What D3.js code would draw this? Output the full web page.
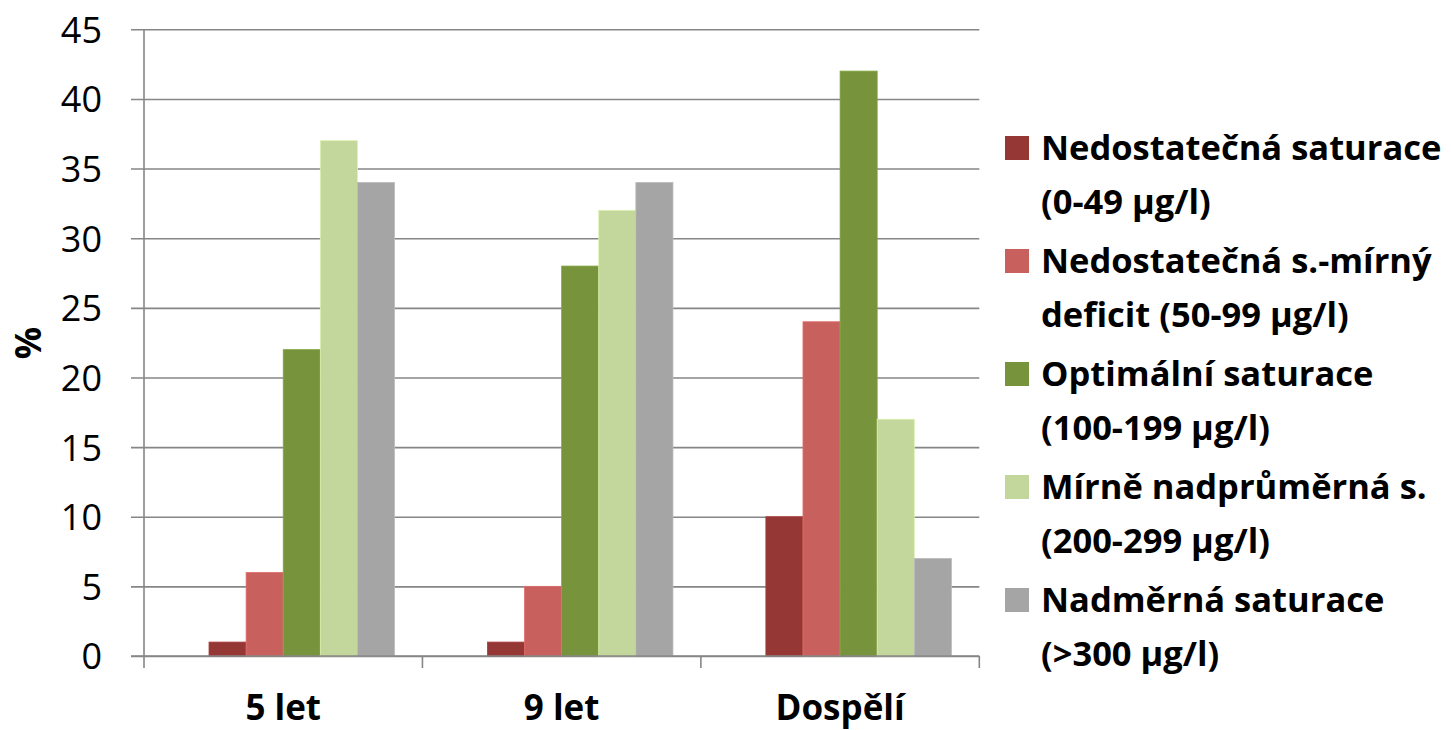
<!DOCTYPE html>
<html><head><meta charset="utf-8">
<script src="https://cdn.jsdelivr.net/npm/d3@7"></script>
<style>
html,body{margin:0;padding:0;background:#fff;}
svg{display:block;}
</style></head>
<body>
<script>
const categories = ["5 let", "9 let", "Dospělí"];
const seriesNames = [
  ["Nedostatečná saturace", "(0-49 µg/l)"],
  ["Nedostatečná s.-mírný", "deficit (50-99 µg/l)"],
  ["Optimální saturace", "(100-199 µg/l)"],
  ["Mírně nadprůměrná s.", "(200-299 µg/l)"],
  ["Nadměrná saturace", "(>300 µg/l)"]
];
const s1 = [1, 1, 10];
const s2 = [6, 5, 24];
const s3 = [22, 28, 42];
const s4 = [37, 32, 17];
const s5 = [34, 34, 7];
const seriesValues = [s1, s2, s3, s4, s5];
const colors = ["#953735", "#C8605E", "#77933C", "#C3D69B", "#A5A5A5"];
const yTicks = [0, 5, 10, 15, 20, 25, 30, 35, 40, 45];

(function () {
const W = 1451, H = 730;
const pL = 144, pR = 979.3, pT = 29.3, pB = 656;
const gridColor = "#868686";
const font = "'Open Sans', 'Noto Sans', sans-serif";

const svg = d3.select("body").append("svg").attr("width", W).attr("height", H);

const y = d3.scaleLinear().domain([0, 45]).range([pB, pT]);
const x0 = d3.scaleBand().domain(categories).range([pL, pR]).padding(0);
// 6 slots per group: first slot empty (as in the original), series in slots 1..5
const x1 = d3.scaleBand().domain(d3.range(6)).range([0, x0.bandwidth()]).paddingInner(0).paddingOuter(0.752);

// gridlines + y ticks
const yAxis = d3.axisLeft(y).tickValues(yTicks).tickSize(-(pR - 131)).tickPadding(29);
const gy = svg.append("g").attr("transform", `translate(131,0)`).call(yAxis);
gy.select(".domain").remove();
gy.selectAll(".tick line").attr("stroke", gridColor).attr("stroke-width", 1.6);
gy.selectAll(".tick text").attr("font-family", font).attr("font-size", 36).attr("fill", "#000")
  .attr("dy", "0.36em");

// bars
categories.forEach((c, ci) => {
  const g = svg.append("g").attr("transform", `translate(${x0(c)},0)`);
  seriesValues.forEach((vals, si) => {
    const v = vals[ci];
    g.append("rect")
      .attr("x", x1(si + 1))
      .attr("width", x1.bandwidth())
      .attr("y", y(v))
      .attr("height", y(0) - y(v))
      .attr("fill", colors[si])
      .attr("stroke", d3.color(colors[si]).brighter(0.35))
      .attr("stroke-width", 0.8);
  });
});

// vertical axis line
svg.append("line").attr("x1", pL).attr("x2", pL).attr("y1", pT).attr("y2", pB)
  .attr("stroke", gridColor).attr("stroke-width", 1.6);
// bottom axis line
svg.append("line").attr("x1", 131).attr("x2", pR).attr("y1", pB).attr("y2", pB)
  .attr("stroke", gridColor).attr("stroke-width", 1.6);
// category boundary ticks
const bounds = categories.map(c => x0(c)).concat([x0(categories[categories.length - 1]) + x0.bandwidth()]);
svg.selectAll(".xt").data(bounds).enter().append("line")
  .attr("x1", d => d).attr("x2", d => d).attr("y1", pB).attr("y2", pB + 12)
  .attr("stroke", gridColor).attr("stroke-width", 1.6);

// category labels
const xAxis = d3.axisBottom(x0).tickSize(0).tickPadding(0);
const gx = svg.append("g").call(xAxis);
gx.select(".domain").remove();
gx.selectAll(".tick text").attr("font-family", font).attr("font-size", 35).attr("font-weight", "bold")
  .attr("fill", "#000").attr("y", 720).attr("dy", 0);

// y axis title
svg.append("text").attr("transform", "translate(41,343) rotate(-90)")
  .attr("text-anchor", "middle").attr("font-family", font).attr("font-size", 36).attr("font-weight", "bold")
  .text("%");

// legend
const lg = svg.append("g");
seriesNames.forEach((lines, i) => {
  const cy = 148 + i * 113;
  lg.append("rect").attr("x", 1005).attr("y", cy - 12).attr("width", 24).attr("height", 24).attr("fill", colors[i]);
  lines.forEach((t, li) => {
    lg.append("text").attr("x", 1041).attr("y", cy + 12 + li * 54)
      .attr("font-family", font).attr("font-size", 34.5).attr("font-weight", "bold").attr("fill", "#000")
      .text(t);
  });
});
})();
</script>
</body></html>
